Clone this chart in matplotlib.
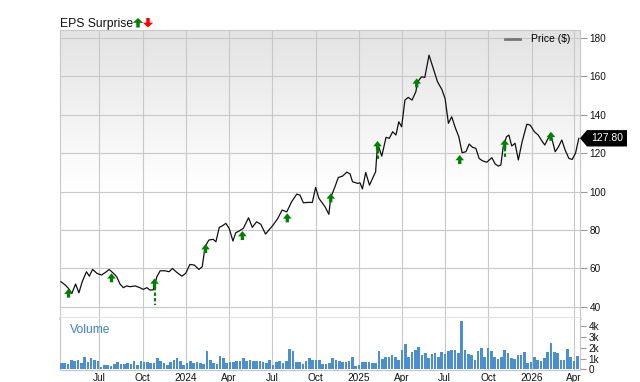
import matplotlib
matplotlib.use("Agg")
import matplotlib.pyplot as plt
import matplotlib.dates as mdates
import numpy as np
import pandas as pd
from matplotlib.patches import Polygon
from matplotlib.lines import Line2D
from matplotlib.ticker import FixedLocator, FuncFormatter
from matplotlib.transforms import IdentityTransform

plt.rcParams['font.family'] = ['Liberation Sans', 'DejaVu Sans']

# ---------------- data ----------------
price_dates = [
    "2023-04-11", "2023-04-20", "2023-04-27", "2023-05-04", "2023-05-12", "2023-05-19", "2023-05-26",
    "2023-06-04", "2023-06-10", "2023-06-17", "2023-06-26", "2023-07-06", "2023-07-15", "2023-07-22",
    "2023-07-31", "2023-08-07", "2023-08-14", "2023-08-21", "2023-08-28", "2023-09-04", "2023-09-15",
    "2023-09-25", "2023-10-02", "2023-10-10", "2023-10-16", "2023-10-23", "2023-10-31", "2023-11-07",
    "2023-11-17", "2023-11-26", "2023-12-03", "2023-12-12", "2023-12-23", "2023-12-31",
    "2024-01-09", "2024-01-18", "2024-01-28", "2024-02-04", "2024-02-10", "2024-02-18", "2024-02-27",
    "2024-03-04", "2024-03-11", "2024-03-17", "2024-03-25", "2024-04-01", "2024-04-09", "2024-04-15",
    "2024-04-22", "2024-05-01", "2024-05-12", "2024-05-20", "2024-05-29", "2024-06-07", "2024-06-17",
    "2024-06-24", "2024-07-03", "2024-07-13", "2024-07-22", "2024-08-01", "2024-08-11", "2024-08-22",
    "2024-08-29", "2024-09-05", "2024-09-15", "2024-09-24", "2024-10-01", "2024-10-08", "2024-10-21",
    "2024-10-29", "2024-11-02", "2024-11-11", "2024-11-18", "2024-11-27", "2024-12-06", "2024-12-13",
    "2024-12-18", "2024-12-29",
    "2025-01-03", "2025-01-08", "2025-01-15", "2025-01-23", "2025-01-30", "2025-02-05", "2025-02-09",
    "2025-02-18", "2025-02-27", "2025-03-06", "2025-03-13", "2025-03-20", "2025-03-26", "2025-04-01",
    "2025-04-08", "2025-04-15", "2025-04-23", "2025-05-01", "2025-05-05", "2025-05-13", "2025-05-20",
    "2025-05-29", "2025-06-07", "2025-06-16", "2025-06-25", "2025-07-02", "2025-07-09", "2025-07-16",
    "2025-07-24", "2025-07-31", "2025-08-07", "2025-08-15", "2025-08-22", "2025-08-29", "2025-09-05",
    "2025-09-12", "2025-09-19", "2025-09-28", "2025-10-09", "2025-10-16", "2025-10-23", "2025-10-28",
    "2025-11-02", "2025-11-09", "2025-11-14", "2025-11-20", "2025-11-27", "2025-12-04", "2025-12-12",
    "2025-12-22", "2025-12-29",
    "2026-01-07", "2026-01-15", "2026-01-24", "2026-01-29", "2026-02-05", "2026-02-11", "2026-02-20",
    "2026-02-27", "2026-03-06", "2026-03-13", "2026-03-21", "2026-03-28", "2026-04-04", "2026-04-11",
]
price_values = [
    53.1, 51.4, 49.6, 47.0, 51.9, 47.3, 53.1, 58.3, 56.0, 59.5, 57.5, 56.6, 58.1, 59.5, 57.5, 55.7,
    51.9, 50.0, 50.9, 50.5, 50.9, 50.0, 49.1, 50.0, 48.8, 48.8, 55.7, 58.8, 58.8, 58.3, 60.0, 58.0,
    56.0, 57.5,
    62.1, 61.8, 59.5, 60.9, 71.3, 74.8, 75.2, 73.9, 81.4, 82.1, 83.5, 80.9, 74.3, 78.6, 79.5, 80.9,
    86.4, 81.4, 84.3, 83.0, 77.9, 80.0, 82.6, 86.1, 90.4, 89.5, 94.7, 98.7, 98.2, 94.2, 94.4, 94.4,
    102.2, 96.5, 92.1, 88.2, 97.0, 102.6, 107.4, 108.1, 110.2, 109.2, 105.2, 104.3,
    104.6, 101.4, 110.0, 103.4, 107.2, 110.4, 125.2, 118.5, 128.3, 127.8, 131.2, 129.5, 136.4, 133.8,
    147.7, 149.1, 147.7, 152.0, 157.2, 159.8, 159.5, 171.1, 164.2, 157.2, 153.3, 148.5, 135.6, 139.0,
    133.0, 128.6, 120.3, 120.8, 124.8, 123.1, 122.6, 117.3, 116.1, 115.3, 117.7, 114.4, 113.3, 113.9,
    123.4, 128.6, 129.5, 123.8, 125.2, 116.5, 126.0, 135.1, 134.7,
    131.2, 129.5, 126.0, 124.3, 127.8, 129.5, 120.8, 123.4, 126.9, 121.7, 117.3, 116.8, 120.0, 127.8,
]
last_price = 127.80

surprise_dates = ["2023-04-27", "2023-07-27", "2023-10-26", "2024-02-11", "2024-04-29", "2024-08-02",
                  "2024-11-02", "2025-02-09", "2025-05-03", "2025-08-02", "2025-11-05", "2026-02-11"]
surprise_tip = [49.5, 57.5, 54.8, 72.7, 79.5, 88.7, 99.1, 126.4, 159.0, 119.1, 127.2, 131.2]
surprise_tail = [None, None, 41.1, None, None, None, None, 116.5, None, None, 118.2, None]

volume_start = "2023-04-12"
volume_k = [
    0.55, 0.55, 0.5, 0.87, 0.8, 0.87, 0.55, 1.13, 0.7, 1.06,
    0.87, 0.74, 0.23, 0.42, 0.42, 0.26, 0.48, 0.65, 0.48, 0.48,
    0.55, 0.48, 0.8, 0.42, 0.8, 0.7, 0.7, 0.55, 0.55, 1.06,
    0.74, 0.58, 0.42, 0.65, 0.87, 1.03, 0.8, 0.42, 0.55, 0.74,
    0.55, 0.65, 0.55, 0.48, 1.68, 0.87, 0.58, 0.48, 1.23, 1.03,
    0.55, 0.65, 0.65, 0.74, 0.8, 1.06, 0.8, 0.87, 0.8, 0.74,
    0.8, 0.7, 0.55, 0.9, 0.42, 0.7, 0.8, 0.58, 0.8, 1.87,
    1.68, 0.65, 0.65, 0.48, 0.8, 1.03, 0.9, 0.9, 0.87,
    0.48, 0.48, 0.58, 1.06, 0.87, 0.74, 0.7, 0.65, 0.74, 1.19,
    0.35, 0.42, 0.65, 0.65, 0.7, 0.55, 0.55, 1.68, 0.97, 1.19,
    1.19, 1.29, 1.19, 0.9, 1.77, 2.35, 1.19, 1.61, 1.84, 2.1,
    1.35, 1.52, 1.03, 1.45, 1.55, 1.13, 1.61, 1.39, 1.68, 1.77,
    1.77, 1.52, 4.52, 1.84, 1.39, 1.35, 0.87, 1.71, 2.03, 1.13,
    1.94, 1.71, 1.13, 0.97, 1.13, 1.77, 1.52, 1.06, 0.97, 1.29,
    1.29, 1.61, 0.58, 0.65, 1.19, 0.87, 0.74, 1.06, 1.61, 2.48,
    1.61, 1.52, 0.9, 0.87, 1.87, 1.13, 0.74, 1.23,
]
price_ticks = [40, 60, 80, 100, 120, 140, 160, 180]
volume_ticks = [0, 1, 2, 3, 4]
volume_tick_labels = ["0", "1k", "2k", "3k", "4k"]

# ---------------- figure ----------------
W, H = 640, 382
fig = plt.figure(figsize=(6.4, 3.82), dpi=100)


def frame(x0, y0, x1, y1):
    return [x0 / W, 1 - y1 / H, (x1 - x0) / W, (y1 - y0) / H]


ax = fig.add_axes(frame(60, 30, 580, 318))
axv = fig.add_axes(frame(60, 318, 580, 370), sharex=ax)

GRID = '#c8c8c8'
GREEN = '#008000'
ARROW = 'simple,head_length=0.38,head_width=0.62,tail_width=0.24'

# background gradient for price panel
f = np.linspace(1, 0, 200)[:, None]
v = 227 + (255 - 227) * np.clip((1 - f) / 0.55, 0, 1)
grad = np.dstack([v, v, v]).repeat(2, axis=1) / 255.0
ax.imshow(grad, extent=[0, 1, 0, 1], transform=ax.transAxes, aspect='auto', zorder=0)

pdates = pd.to_datetime(price_dates)
ax.plot(pdates, price_values, color='#111111', lw=0.9, zorder=3)

xmin = pd.Timestamp("2023-04-09")
xmax = pd.Timestamp("2026-04-13 12:00")
ax.set_xlim(xmin, xmax)
ax.set_ylim(34.2, 184.2)

ax.set_axisbelow(True)
ax.grid(True, color=GRID, lw=0.8)
ax.xaxis.set_major_locator(mdates.MonthLocator(bymonth=[1, 4, 7, 10]))


def fmt_date(x, pos=None):
    d = mdates.num2date(x)
    return str(d.year) if d.month == 1 else d.strftime('%b')


ax.xaxis.set_major_formatter(FuncFormatter(fmt_date))
ax.tick_params(axis='x', length=0, labelbottom=False)
ax.yaxis.tick_right()
ax.yaxis.set_major_locator(FixedLocator(price_ticks))
ax.tick_params(axis='y', length=5, color='#999999', width=0.8, labelsize=7.2, pad=2, labelcolor='#111111')
for s in ['left', 'right', 'top']:
    ax.spines[s].set_color(GRID)
    ax.spines[s].set_linewidth(0.8)
ax.spines['bottom'].set_color('#e0e0e0')
ax.spines['bottom'].set_linewidth(2.2)

# legend
proxy = Line2D([0], [0], color='#777777', lw=2)
ax.legend(handles=[proxy], labels=['Price ($)'], loc='upper right', bbox_to_anchor=(0.981, 0.985),
          frameon=False, fontsize=7.5, handlelength=1.45, handletextpad=1.0, borderpad=0, borderaxespad=0)

# EPS surprise arrows
for d, tip, tail in zip(surprise_dates, surprise_tip, surprise_tail):
    dt = pd.Timestamp(d)
    ax.annotate('', xy=(dt, tip), xytext=(0, -6.5), textcoords='offset points',
                arrowprops=dict(arrowstyle=ARROW, fc=GREEN, ec='none', shrinkA=0, shrinkB=0,
                                mutation_scale=10), zorder=4)
    if tail is not None:
        ax.plot([dt, dt], [tip - 4.6, tail], color=GREEN, lw=1.6, ls=(0, (1.5, 1.0)),
                solid_capstyle='butt', zorder=4)

# price tag
yc = ax.transData.transform((mdates.date2num(xmax), last_price))[1]
tag = Polygon([(580, yc), (587, yc + 8.2), (627, yc + 8.2), (627, yc - 8.2), (587, yc - 8.2)],
              closed=True, facecolor='black', edgecolor='none', transform=IdentityTransform())
fig.patches.append(tag)
fig.text(607, yc, f"{last_price:.2f}", transform=IdentityTransform(), color='white', fontsize=7.5,
         ha='center', va='center')

# volume panel
vdates = pd.date_range(volume_start, periods=len(volume_k), freq='7D')
axv.bar(vdates, volume_k, width=5.5, color='#4b8fcf', zorder=3)
axv.set_ylim(-0.07, 4.79)
axv.set_axisbelow(True)
axv.grid(True, axis='x', color=GRID, lw=0.8)
axv.yaxis.tick_right()
axv.yaxis.set_major_locator(FixedLocator(volume_ticks))
axv.set_yticklabels(volume_tick_labels)
axv.tick_params(axis='y', length=4, color='#999999', width=0.8, labelsize=7.2, pad=2, labelcolor='#111111')
axv.tick_params(axis='x', length=0, labelsize=7.3, pad=2, labelcolor='#111111')
for s in ['left', 'right', 'bottom']:
    axv.spines[s].set_color(GRID)
    axv.spines[s].set_linewidth(0.8)
axv.spines['top'].set_visible(False)
axv.text(0.019, 0.77, 'Volume', transform=axv.transAxes, color='#3a83c8', fontsize=8.7, va='center')

# header
fig.text(60 / W, 1 - 27 / H, 'EPS Surprise', fontsize=8.7, va='baseline', color='#111111')
ax.annotate('', xy=(138, H - 18), xycoords='figure pixels', xytext=(138, H - 27.5),
            textcoords='figure pixels',
            arrowprops=dict(arrowstyle='simple,head_length=0.35,head_width=0.75,tail_width=0.25',
                            fc=GREEN, ec='none', shrinkA=0, shrinkB=0, mutation_scale=10))
ax.annotate('', xy=(148, H - 27.5), xycoords='figure pixels', xytext=(148, H - 18),
            textcoords='figure pixels',
            arrowprops=dict(arrowstyle='simple,head_length=0.35,head_width=0.75,tail_width=0.25',
                            fc='#ff0000', ec='none', shrinkA=0, shrinkB=0, mutation_scale=10))

fig.savefig('out.png', dpi=100)
